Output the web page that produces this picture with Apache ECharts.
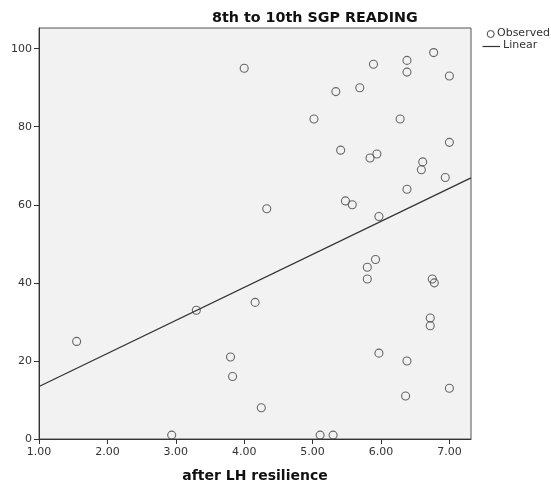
<!DOCTYPE html>
<html>
<head>
<meta charset="utf-8">
<script src="https://cdn.jsdelivr.net/npm/echarts@6/dist/echarts.min.js"></script>
<style>
    html, body { margin: 0; padding: 0; background: #fff; }
    #main { width: 551px; height: 483px; }
</style>
</head>
<body>
<div id="main"></div>
<script>
    // after LH resilience (x) vs 8th to 10th SGP READING (y)
    const resilience = [
        1.55, 2.94, 3.30, 3.80, 3.83, 4.00, 4.16, 4.25, 4.33, 5.02,
        5.11, 5.30, 5.34, 5.41, 5.48, 5.58, 5.69, 5.80, 5.80, 5.84,
        5.89, 5.92, 5.94, 5.97, 5.97, 6.28, 6.36, 6.38, 6.38, 6.38,
        6.38, 6.59, 6.61, 6.72, 6.72, 6.75, 6.77, 6.78, 6.94, 7.00,
        7.00, 7.00
    ];
    const sgpReading = [
        25, 1, 33, 21, 16, 95, 35, 8, 59, 82,
        1, 1, 89, 74, 61, 60, 90, 44, 41, 72,
        96, 46, 73, 57, 22, 82, 11, 97, 94, 64,
        20, 69, 71, 31, 29, 41, 99, 40, 67, 93,
        76, 13
    ];
    // linear fit
    const fitIntercept = 5.0;
    const fitSlope = 8.46;

    const xTicks = [1, 2, 3, 4, 5, 6, 7];
    const yTicks = [0, 20, 40, 60, 80, 100];
    const xMin = 1, xMax = 7.316;
    const yMin = 0, yMax = 105.3;

    const points = resilience.map((x, i) => [x, sgpReading[i]]);
    const fitLine = [xMin, xMax].map(x => [x, fitIntercept + fitSlope * x]);

    const labelStyle = { color: '#333', fontSize: 11, fontFamily: 'DejaVu Sans' };

    const chart = echarts.init(document.getElementById('main'));
    chart.setOption({
        animation: false,
        backgroundColor: '#fff',
        title: {
            text: '8th to 10th SGP READING',
            left: 207,
            top: 6,
            textStyle: { fontSize: 14.3, fontWeight: 'bold', color: '#111', fontFamily: 'DejaVu Sans' }
        },
        grid: {
            left: 39, right: 80, top: 28, bottom: 44,
            outerBoundsMode: 'none',
            containLabel: false,
            show: true,
            backgroundColor: '#f2f2f2',
            borderColor: '#555',
            borderWidth: 1
        },
        xAxis: {
            type: 'value',
            min: xMin, max: xMax,
            name: 'after LH resilience',
            nameLocation: 'middle',
            nameGap: 30,
            nameTextStyle: { fontSize: 14, fontWeight: 'bold', color: '#111', fontFamily: 'DejaVu Sans' },
            axisLine: { lineStyle: { color: '#333', width: 1 } },
            axisTick: { length: 5, lineStyle: { color: '#333' }, customValues: xTicks },
            axisLabel: { ...labelStyle, margin: 8, customValues: xTicks, formatter: v => v.toFixed(2) },
            splitLine: { show: false }
        },
        yAxis: {
            type: 'value',
            min: yMin, max: yMax,
            axisLine: { show: true, lineStyle: { color: '#333', width: 1 } },
            axisTick: { show: true, length: 5, lineStyle: { color: '#333' }, customValues: yTicks },
            axisLabel: { ...labelStyle, margin: 7, customValues: yTicks },
            splitLine: { show: false }
        },
        graphic: [
            {
                type: 'circle', shape: { cx: 490.7, cy: 34, r: 3.5 },
                style: { fill: 'none', stroke: '#444', lineWidth: 1 }
            },
            {
                type: 'text', left: 497, top: 28,
                style: { text: 'Observed', fill: '#333', fontSize: 11, fontFamily: 'DejaVu Sans' }
            },
            {
                type: 'line', shape: { x1: 482.5, y1: 46.5, x2: 500, y2: 46.5 },
                style: { stroke: '#333', lineWidth: 1.2 }
            },
            {
                type: 'text', left: 503, top: 40,
                style: { text: 'Linear', fill: '#333', fontSize: 11, fontFamily: 'DejaVu Sans' }
            }
        ],
        series: [
            {
                name: 'Observed',
                type: 'scatter',
                data: points,
                symbol: 'circle',
                symbolSize: 8,
                itemStyle: { color: 'rgba(0,0,0,0)', borderColor: '#444', borderWidth: 1.1 }
            },
            {
                name: 'Linear',
                type: 'line',
                data: fitLine,
                symbol: 'none',
                lineStyle: { color: '#333', width: 1.3 }
            }
        ]
    });
</script>
</body>
</html>
